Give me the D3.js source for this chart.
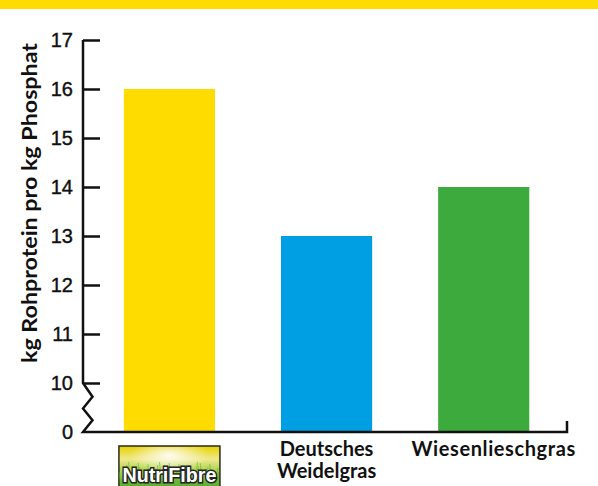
<!DOCTYPE html>
<html>
<head>
<meta charset="utf-8">
<script src="https://cdn.jsdelivr.net/npm/d3@7"></script>
<style>
  html, body { margin: 0; padding: 0; background: #fff; }
  svg { display: block; }
</style>
</head>
<body>
<svg id="chart" width="598" height="486"></svg>
<script>
// ---- data ----
const categories = ["NutriFibre", "Deutsches Weidelgras", "Wiesenlieschgras"];
const values = [16, 13, 14];
const barColors = ["#FFDC00", "#009FE3", "#3DAA3E"];
const tickValues = [0, 10, 11, 12, 13, 14, 15, 16, 17];
const yTitle = "kg Rohprotein pro kg Phosphat";
const labelLines = [[], ["Deutsches", "Weidelgras"], ["Wiesenlieschgras"]];

(function () {
// ---- layout ----
const svg = d3.select("#chart");
const mLeft = 83, mRight = 567, mBottom = 432, mTop = 40, breakY = 383;

// band header
svg.append("rect").attr("x", 0).attr("y", 0).attr("width", 598).attr("height", 9).attr("fill", "#FFDC00");

// broken scale: 0 at bottom, 10..17 linear above
const y = d3.scaleLinear().domain([0, 10, 17]).range([mBottom, breakY, mTop]);
const x = d3.scaleBand().domain(categories).range([mLeft, mRight])
  .paddingInner(0.42).paddingOuter(0.25).align(0.52);

// bars
svg.append("g").selectAll("rect").data(categories).join("rect")
  .attr("x", d => x(d))
  .attr("width", x.bandwidth())
  .attr("y", (d, i) => y(values[i]))
  .attr("height", (d, i) => y(0) - y(values[i]))
  .attr("fill", (d, i) => barColors[i]);

// y axis ticks
const yAxis = d3.axisRight(y).tickValues(tickValues).tickSize(17).tickFormat("");
const gy = svg.append("g").attr("transform", `translate(${mLeft},0)`).call(yAxis);
gy.select(".domain").remove();
gy.selectAll(".tick line").attr("stroke", "#111").attr("stroke-width", 2.5);
gy.selectAll(".tick").filter(d => d === 0).remove();

// axis line with zigzag break
const span = mBottom - breakY;
const axisPath = d3.path();
axisPath.moveTo(mLeft, y(17));
axisPath.lineTo(mLeft, breakY);
axisPath.lineTo(mLeft + 9.5, breakY + span * 0.28);
axisPath.lineTo(mLeft, breakY + span * 0.52);
axisPath.lineTo(mLeft + 9.5, breakY + span * 0.76);
axisPath.lineTo(mLeft, mBottom);
axisPath.lineTo(mRight, mBottom);
axisPath.lineTo(mRight, mBottom - 11);
svg.append("path").attr("d", axisPath.toString())
  .attr("fill", "none").attr("stroke", "#111").attr("stroke-width", 2.5)
  .attr("stroke-linejoin", "miter");

// tick labels
svg.append("g").selectAll("text").data(tickValues).join("text")
  .attr("x", 73)
  .attr("y", d => y(d))
  .attr("dy", "0.36em")
  .attr("text-anchor", "end")
  .attr("font-family", "'Liberation Sans Narrow', 'Liberation Sans', sans-serif")
  .attr("font-size", 20)
  .attr("fill", "#111")
  .attr("stroke", "#111")
  .attr("stroke-width", 0.4)
  .text(d => d);

// y title
svg.append("text")
  .attr("transform", `translate(37,${(43 + 363) / 2}) rotate(-90)`)
  .attr("text-anchor", "middle")
  .attr("font-family", "Lato, 'DejaVu Sans', sans-serif")
  .attr("font-weight", "bold")
  .attr("font-size", 20)
  .attr("fill", "#111")
  .attr("textLength", 320)
  .attr("lengthAdjust", "spacingAndGlyphs")
  .text(yTitle);

// category labels (text)
const labelOffsets = [0, 0, 10];
categories.forEach((c, i) => {
  const cx = x(c) + x.bandwidth() / 2 + labelOffsets[i];
  labelLines[i].forEach((line, j) => {
    svg.append("text")
      .attr("x", cx)
      .attr("y", 456 + j * 22)
      .attr("text-anchor", "middle")
      .attr("font-family", "Lato, 'DejaVu Sans', sans-serif")
      .attr("font-weight", "bold")
      .attr("font-size", 20)
      .attr("letter-spacing", i === 2 ? 0.6 : 0)
      .attr("fill", "#111")
      .text(line);
  });
});

// NutriFibre logo
const defs = svg.append("defs");
const lg = defs.append("linearGradient").attr("id", "logoGrad").attr("x1", 0).attr("y1", 0).attr("x2", 0).attr("y2", 1);
lg.append("stop").attr("offset", "0%").attr("stop-color", "#E6D200");
lg.append("stop").attr("offset", "30%").attr("stop-color", "#F0E88A");
lg.append("stop").attr("offset", "60%").attr("stop-color", "#9FD046");
lg.append("stop").attr("offset", "100%").attr("stop-color", "#45A52C");
const rg = defs.append("radialGradient").attr("id", "logoGlow").attr("cx", "50%").attr("cy", "20%").attr("r", "40%");
rg.append("stop").attr("offset", "0%").attr("stop-color", "#ffffff").attr("stop-opacity", 0.9);
rg.append("stop").attr("offset", "100%").attr("stop-color", "#ffffff").attr("stop-opacity", 0);

const n0 = categories[0];
const lcx = x(n0) + x.bandwidth() / 2;
const lw = 101, lh = 44;
const lx = lcx - lw / 2, ly = 446;
svg.append("rect").attr("x", lx).attr("y", ly).attr("width", lw).attr("height", lh)
  .attr("fill", "url(#logoGrad)").attr("stroke", "#2a2a1a").attr("stroke-width", 1.5);
svg.append("rect").attr("x", lx + 1).attr("y", ly + 1).attr("width", lw - 2).attr("height", lh - 2)
  .attr("fill", "url(#logoGlow)");
// grass blades (decoration)
const blades = d3.range(0, 34);
svg.append("g").selectAll("path").data(blades).join("path")
  .attr("d", (d) => {
    const bx = lx + 3 + d * 2.9;
    const h = 10 + ((d * 7) % 11);
    const lean = ((d * 5) % 7) - 3;
    return `M${bx},${ly + lh} Q${bx + lean * 0.5},${ly + lh - h * 0.6} ${bx + lean},${ly + lh - h - 8}`;
  })
  .attr("fill", "none").attr("stroke", "#5DB033").attr("stroke-opacity", 0.6).attr("stroke-width", 1);
svg.append("text")
  .attr("x", lcx).attr("y", 482)
  .attr("text-anchor", "middle")
  .attr("font-family", "'Liberation Sans Narrow', 'Liberation Sans', sans-serif")
  .attr("font-weight", "bold")
  .attr("font-size", 21)
  .attr("fill", "#ffffff")
  .attr("stroke", "#222")
  .attr("stroke-width", 3)
  .attr("paint-order", "stroke")
  .attr("textLength", 94)
  .attr("lengthAdjust", "spacingAndGlyphs")
  .text(categories[0]);
})();
</script>
</body>
</html>
